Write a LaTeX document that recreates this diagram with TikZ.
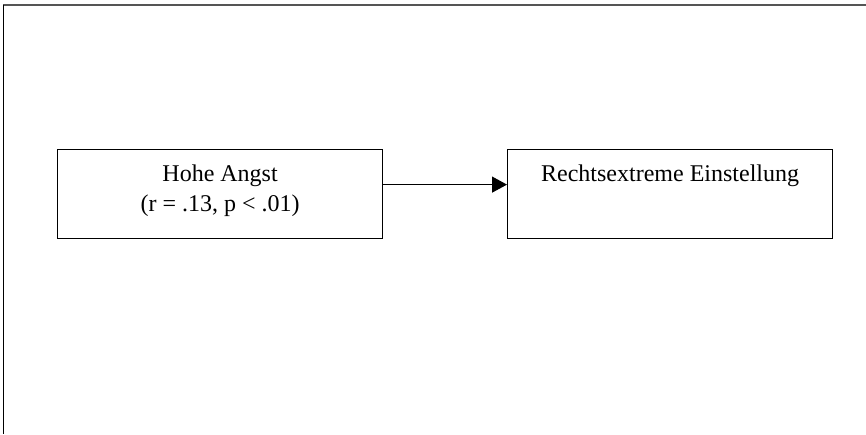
\documentclass[tikz,border=0pt]{standalone}
\usepackage{fontspec}
\setmainfont{Liberation Serif}
\usetikzlibrary{arrows.meta,positioning}
\definecolor{ink}{HTML}{000000}
\definecolor{rahmen}{HTML}{555555}
\tikzset{
  feld/.style={draw=ink,line width=0.6pt,minimum width=162.5pt,minimum height=44.5pt,
    inner xsep=2pt,inner ysep=0pt,align=center,text height=#1,text depth=44.5pt-#1,
    anchor=north west,font=\fontsize{12}{15}\selectfont},
  feld/.default=16pt,
  arr/.style={-{Triangle[length=7.5pt,width=8pt]},line width=0.6pt,draw=ink},
}
\begin{document}
\begin{tikzpicture}[x=0.5pt,y=-0.5pt]
        \useasboundingbox (0,0) rectangle (866,434);
        % Rahmen (oben und links)
        \draw[rahmen,line width=1pt] (3,4.5) -- (866,4.5);
        \draw[ink,line width=0.7pt] (3.5,4.5) -- (3.5,434);

        \node[feld=31pt] (angst) at (57,149) {Hohe Angst\\(r = .13, p < .01)};
        \node[feld] (einst) at (507,149) {Rechtsextreme Einstellung};

        \draw[arr] ([yshift=4.75pt]angst.east) -- ([yshift=4.75pt]einst.west);
      \end{tikzpicture}
\end{document}
